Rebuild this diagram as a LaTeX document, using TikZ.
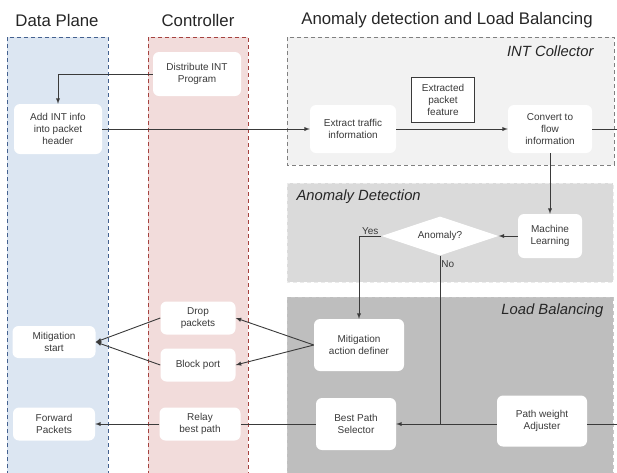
\documentclass[tikz,border=0pt]{standalone}
\usepackage{fontspec}
\setmainfont{Liberation Sans}
\usetikzlibrary{shapes.geometric, arrows}
\definecolor{dpfill}{HTML}{DCE6F2}
\definecolor{dpline}{HTML}{44618F}
\definecolor{ctfill}{HTML}{F2DCDB}
\definecolor{ctline}{HTML}{A5423F}
\definecolor{icfill}{HTML}{F2F2F2}
\definecolor{adfill}{HTML}{DADADA}
\definecolor{lbfill}{HTML}{BEBEBE}
\definecolor{ink}{HTML}{3A3A3A}
\tikzstyle{lane} = [rectangle, dashed, line width=0.9pt, dash pattern=on 4pt off 3pt]
\tikzstyle{heading} = [text=black!85, font=\fontsize{16.8}{19}\selectfont]
\tikzstyle{paneltitle} = [text=black!85, font=\fontsize{14.8}{17}\selectfont\itshape]
\tikzstyle{block} = [rectangle, rounded corners=6pt, fill=white, text=ink, align=center, inner sep=1pt, font=\fontsize{10}{12}\selectfont]
\tikzstyle{feature} = [rectangle, draw=ink, fill=white, text=ink, align=center, line width=0.7pt, minimum width=63pt, minimum height=45pt, inner sep=1pt, font=\fontsize{10}{12}\selectfont]
\tikzstyle{decision} = [diamond, aspect=3, fill=white, text=ink, inner sep=0pt, minimum width=117pt, minimum height=39pt, font=\fontsize{10}{12}\selectfont]
\tikzstyle{line} = [draw=ink, line width=0.9pt]
\tikzstyle{arrow} = [line, ->, >=latex]
\tikzstyle{tag} = [text=ink, inner sep=1pt, font=\fontsize{10}{12}\selectfont]

\begin{document}
\begin{tikzpicture}[x=1pt, y=-1pt]
		\useasboundingbox (0,0) rectangle (617,472);
		\fill [dpfill] (7,37) rectangle (108,475);
		\draw [lane, draw=dpline] (7,475) -- (7,37) -- (108,37) -- (108,475);
		\fill [ctfill] (148,37) rectangle (248,475);
		\draw [lane, draw=ctline] (148,475) -- (148,37) -- (248,37) -- (248,475);
		\draw [lane, fill=icfill, draw=black!50] (287,37) rectangle (614,165);
		\draw [lane, fill=adfill, draw=black!8] (287,183) rectangle (613,282);
		\draw [lane, fill=lbfill, draw=black!22] (287,475) -- (287,297) -- (613,297) -- (613,475);
		\node (hdp) [heading] at (57,20) {Data Plane};
		\node (hct) [heading] at (198,20) {Controller};
		\node (hadlb) [heading] at (447,20) {Anomaly detection and Load Balancing};
		\node (tic) [paneltitle, anchor=east] at (597,51) {INT Collector};
		\node (tad) [paneltitle, anchor=west] at (293,197) {Anomaly Detection};
		\node (tlb) [paneltitle, anchor=east] at (607,311) {Load Balancing};
		\node (dist) [block, minimum width=88pt, minimum height=44pt] at (197,74) {Distribute INT\\Program};
		\node (addint) [block, minimum width=88pt, minimum height=50pt] at (58,129) {Add INT info\\into packet\\header};
		\node (extract) [block, minimum width=86pt, minimum height=48pt] at (353,129) {Extract traffic\\information};
		\node (feat) [feature] at (443,100) {Extracted\\packet\\feature};
		\node (convert) [block, minimum width=84pt, minimum height=48pt] at (550,129) {Convert to\\flow\\information};
		\node (ml) [block, minimum width=64pt, minimum height=44pt] at (550,236) {Machine\\Learning};
		\node (anom) [decision] at (440,236) {Anomaly?};
		\node (mad) [block, minimum width=90pt, minimum height=52pt] at (359,345) {Mitigation\\action definer};
		\node (bps) [block, minimum width=80pt, minimum height=52pt] at (356,424) {Best Path\\Selector};
		\node (pwa) [block, minimum width=90pt, minimum height=51pt] at (542,421) {Path weight\\Adjuster};
		\node (drop) [block, minimum width=75pt, minimum height=33pt] at (198,318) {Drop\\packets};
		\node (bport) [block, minimum width=75pt, minimum height=33pt] at (198,365) {Block port};
		\node (relay) [block, minimum width=81pt, minimum height=33pt] at (200,424) {Relay\\best path};
		\node (mstart) [block, minimum width=83pt, minimum height=32pt] at (54,342) {Mitigation\\start};
		\node (fwd) [block, minimum width=82pt, minimum height=33pt] at (54,424) {Forward\\Packets};
		\coordinate (outic) at (617,129);
		\coordinate (outlb) at (617,424);
		\coordinate (nojoin) at (440,424);
		\draw [arrow] (dist.west) -| (addint.north);
		\draw [arrow] (addint) -- (extract);
		\draw [arrow] (extract) -- (convert);
		\draw [line] (convert) -- (outic);
		\draw [arrow] (convert) -- (ml);
		\draw [arrow] (ml) -- (anom);
		\draw [arrow] (anom.west) -| node[tag, pos=0.25, above] {Yes} (mad.north);
		\draw [line] (anom.south) -- node[tag, pos=0.02, anchor=north west] {No} (nojoin);
		\draw [arrow] (pwa.west |- bps) -- (bps);
		\draw [line] (pwa.east |- outlb) -- (outlb);
		\draw [arrow] (mad.west) -- (drop.east);
		\draw [arrow] (mad.west) -- (bport.east);
		\draw [arrow] (drop.west) -- (mstart.east);
		\draw [arrow] (bport.west) -- (mstart.east);
		\draw [line] (bps) -- (relay);
		\draw [arrow] (relay) -- (fwd);
	\end{tikzpicture}
\end{document}
